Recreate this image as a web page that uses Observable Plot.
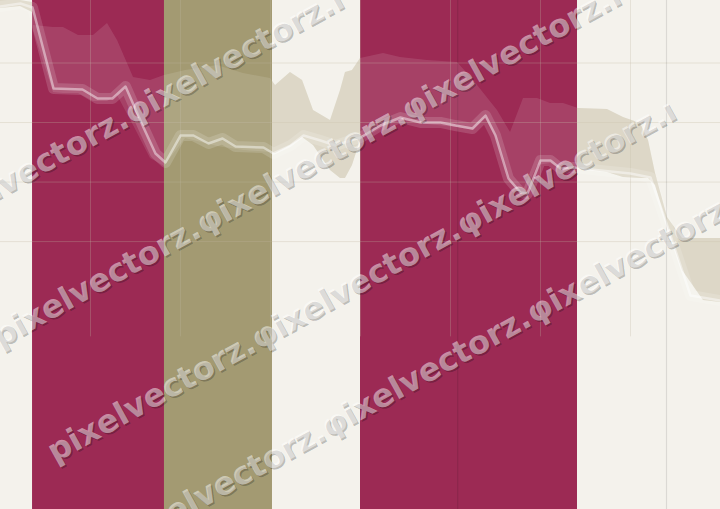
<!DOCTYPE html>
<html><head><meta charset="utf-8">
<script src="https://cdn.jsdelivr.net/npm/d3@7"></script>
<script src="https://cdn.jsdelivr.net/npm/@observablehq/plot@0.6"></script>
<style>
html,body{margin:0;padding:0;background:#f4f2ec;overflow:hidden}
#chart svg{display:block}
</style></head><body><div id="chart"></div>
<script>
// ---- data ----
const lineX = [2000.000,2000.222,2000.356,2000.589,2000.911,2001.078,2001.244,2001.389,2001.589,2001.722,2001.833,2002.000,2002.144,2002.311,2002.467,2002.611,2002.922,2003.033,2003.222,2003.367,2003.556,2003.722,2003.889,2004.000,2004.222,2004.444,2004.667,2004.889,2005.056,2005.244,2005.389,2005.500,2005.644,2005.778,2005.856,2006.000,2006.111,2006.222,2006.367,2006.667,2007.000,2007.222,2007.389,2007.667,2008.000];
const lineY = [59.49,60.00,59.32,45.72,45.55,44.04,44.04,46.05,39.17,34.80,33.29,37.82,37.82,36.48,37.32,35.97,35.81,34.80,36.14,37.82,36.98,36.14,36.98,37.49,39.50,40.85,40.01,40.01,39.50,39.00,41.18,37.82,30.60,28.25,28.08,33.62,33.62,32.28,32.45,31.94,31.44,30.77,23.54,10.94,10.10];

const areaX = [2000.000,2000.222,2000.356,2000.367,2000.589,2000.700,2000.867,2001.033,2001.189,2001.300,2001.478,2001.667,2001.822,2002.056,2002.411,2002.700,2003.000,2003.056,2003.222,2003.356,2003.478,2003.667,2003.778,2003.833,2003.911,2004.000,2004.256,2004.444,2004.744,2005.078,2005.256,2005.389,2005.522,2005.667,2005.811,2005.967,2006.111,2006.256,2006.422,2006.744,2006.922,2007.111,2007.200,2007.278,2007.411,2007.578,2007.811,2008.000];
const areaHigh = [60.50,60.50,60.16,56.30,55.96,55.96,54.62,54.62,56.64,53.78,47.57,47.06,47.90,48.74,49.58,48.24,47.40,46.22,48.41,47.06,42.02,40.34,45.38,48.41,48.74,50.76,51.60,50.93,50.42,50.09,47.06,44.54,42.02,38.33,44.04,44.04,43.20,43.20,42.36,42.19,40.85,39.84,36.98,31.44,24.05,20.52,20.52,20.52];
const areaLow = [59.16,59.49,58.48,55.46,45.05,44.88,44.88,43.53,43.53,44.54,39.50,33.96,32.61,37.32,35.97,35.30,34.97,34.80,36.14,37.49,36.14,31.94,30.60,30.60,32.78,36.98,39.17,40.34,39.67,39.17,38.66,40.68,36.98,29.93,27.58,32.78,33.12,31.94,32.28,31.61,30.77,30.60,30.60,29.42,22.70,15.15,10.10,9.77];

const bandStart = [2000.356, 2001.822, 2004.000];
const bandEnd   = [2001.822, 2003.022, 2006.411];
const bandKind  = ["crimson", "olive", "crimson"];

const gridXTicks = [2001, 2002, 2003, 2004, 2005, 2006, 2007];
const gridYTicks = [20, 30, 40, 50];
const markerX = [2005.08, 2007.40];

const watermarkRows = [
  "pixelvectorz.φixelvectorz.ı",
  "pixelvectorz.φixelvectorz.φixelvectorz.ı",
  "pixelvectorz.φixelvectorz.φixelvectorz.ı",
  "pixelvectorz.φixelvectorz.φixelvectorz.ı"
];

// ---- build ----
const palette = {crimson: "#9c2a54", olive: "#a39a72"};
const bands = bandStart.map((s, i) => ({start: s, end: bandEnd[i], color: palette[bandKind[i]]}));
const line = lineX.map((x, i) => ({x, y: lineY[i]}));
const area = areaX.map((x, i) => ({x, lo: areaLow[i], hi: areaHigh[i]}));

const Y0 = -25, Y1 = 60.5;

const plot = Plot.plot({
  width: 720, height: 509, margin: 0,
  x: {domain: [2000, 2008], axis: null},
  y: {domain: [Y0, Y1], axis: null},
  style: {background: "#f4f2ec"},
  marks: [
    Plot.areaY(area, {x: "x", y1: "lo", y2: "hi", fill: "#d9d3c0"}),
    Plot.rect(bands, {x1: "start", x2: "end", y1: Y0, y2: Y1, fill: "color"}),
    Plot.ruleX(gridXTicks, {y1: 4, y2: Y1, stroke: "#c0b6a0", strokeOpacity: 0.28, strokeWidth: 1}),
    Plot.ruleY(gridYTicks, {stroke: "#c0b6a0", strokeOpacity: 0.3, strokeWidth: 1}),
    Plot.ruleX(markerX, {stroke: "#000", strokeOpacity: 0.1, strokeWidth: 1.2}),
    Plot.areaY(area, {x: "x", y1: "lo", y2: "hi", fill: "#ffffff", fillOpacity: 0.11}),
    Plot.line(line, {x: "x", y: "y", stroke: "#ffffff", strokeOpacity: 0.15, strokeWidth: 11, strokeLinejoin: "round"}),
    Plot.line(line, {x: "x", y: "y", stroke: "#ffffff", strokeOpacity: 0.45, strokeWidth: 2.5, strokeLinejoin: "round"})
  ]
});
document.getElementById("chart").appendChild(plot);

// ---- watermark ----
const rowPos = [[-72, 238], [0, 348], [55, 463], [125, 551]];
const svg = d3.select(plot);
const g = svg.append("g")
  .attr("font-family", "DejaVu Sans").attr("font-weight", "bold")
  .attr("font-size", 32).attr("text-anchor", "start");
rowPos.forEach(([x, y], i) => {
  g.append("text").attr("text-anchor", "start")
    .attr("transform", `translate(${x + 1.5},${y + 1.5}) rotate(-29)`)
    .attr("fill", "#000").attr("fill-opacity", 0.24).text(watermarkRows[i]);
  g.append("text").attr("text-anchor", "start")
    .attr("transform", `translate(${x},${y}) rotate(-29)`)
    .attr("fill", "#fff").attr("fill-opacity", 0.48).text(watermarkRows[i]);
});
</script></body></html>
